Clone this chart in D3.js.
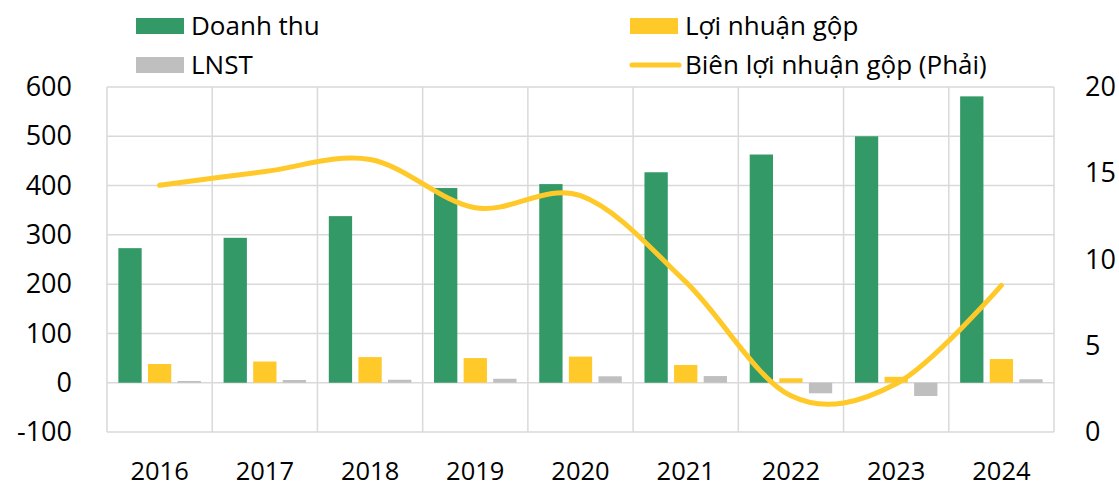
<!DOCTYPE html>
<html>
<head>
<meta charset="utf-8">
<script src="https://cdn.jsdelivr.net/npm/d3@7"></script>
<style>
  body { margin: 0; background: #fff; }
  text { font-family: "Open Sans", sans-serif; fill: #000; }
</style>
</head>
<body>
<div id="chart"></div>
<script>
// data
var years = ["2016", "2017", "2018", "2019", "2020", "2021", "2022", "2023", "2024"];
var doanhThu = [273, 294, 338, 395, 403, 427, 463, 500, 581];
var loiNhuanGop = [38, 43, 52, 50, 53, 36, 9, 12, 48];
var lnst = [3.5, 5.5, 6, 8, 13, 13.5, -21.5, -27, 7];
var bienLNG = [14.3, 15.1, 15.8, 13.0, 13.7, 8.7, 2.1, 2.8, 8.5];
var leftTicks = [-100, 0, 100, 200, 300, 400, 500, 600];
var rightTicks = [0, 5, 10, 15, 20];

var width = 1119, height = 486;
var plotLeft = 107, plotRight = 1054, plotTop = 87, plotBottom = 432;
var colors = { green: "#339966", yellow: "#ffc929", gray: "#bfbfbf", grid: "#d9d9d9" };

var svg = d3.select("#chart").append("svg")
    .attr("width", width)
    .attr("height", height);

var x = d3.scaleBand().domain(years).range([plotLeft, plotRight]);
var y = d3.scaleLinear().domain([-100, 600]).range([plotBottom, plotTop]);
var y2 = d3.scaleLinear().domain([0, 20]).range([plotBottom, plotTop]);

//gridlines
svg.append("g").selectAll("line")
    .data(leftTicks)
    .enter().append("line")
    .attr("x1", plotLeft).attr("x2", plotRight)
    .attr("y1", function (d) { return y(d); })
    .attr("y2", function (d) { return y(d); })
    .attr("stroke", colors.grid).attr("stroke-width", 1.5);

svg.append("g").selectAll("line")
    .data(years.concat(["end"]))
    .enter().append("line")
    .attr("x1", function (d, i) { return plotLeft + i * x.step(); })
    .attr("x2", function (d, i) { return plotLeft + i * x.step(); })
    .attr("y1", plotTop).attr("y2", plotBottom)
    .attr("stroke", colors.grid).attr("stroke-width", 1.5);

//bars
var barW = 23.3, barGap = 6.3;
var series = [
    { values: doanhThu, color: colors.green },
    { values: loiNhuanGop, color: colors.yellow },
    { values: lnst, color: colors.gray }
];
var groupW = barW * 3 + barGap * 2;
series.forEach(function (s, k) {
    svg.append("g").selectAll("rect")
        .data(s.values)
        .enter().append("rect")
        .attr("x", function (d, i) { return x(years[i]) + (x.bandwidth() - groupW) / 2 + k * (barW + barGap); })
        .attr("y", function (d) { return y(Math.max(d, 0)); })
        .attr("width", barW)
        .attr("height", function (d) { return Math.abs(y(d) - y(0)); })
        .attr("fill", s.color);
});

//margin line (right axis)
var line = d3.line()
    .x(function (d, i) { return x(years[i]) + x.bandwidth() / 2; })
    .y(function (d) { return y2(d); })
    .curve(d3.curveCatmullRom.alpha(0));
svg.append("path")
    .datum(bienLNG)
    .attr("d", line)
    .attr("fill", "none")
    .attr("stroke", colors.yellow)
    .attr("stroke-width", 5)
    .attr("stroke-linecap", "round");

//axes
var axisL = svg.append("g")
    .attr("transform", "translate(" + (plotLeft - 35) + ",0)")
    .call(d3.axisLeft(y).tickValues(leftTicks).tickFormat(function (d) { return String(d); })
        .tickSize(0).tickPadding(0));
var axisR = svg.append("g")
    .attr("transform", "translate(" + (plotRight + 31) + ",0)")
    .call(d3.axisRight(y2).tickValues(rightTicks).tickSize(0).tickPadding(0));
var axisB = svg.append("g")
    .attr("transform", "translate(0," + (plotBottom + 30) + ")")
    .call(d3.axisBottom(x).tickSize(0).tickPadding(0));
[axisL, axisR, axisB].forEach(function (a) {
    a.select(".domain").remove();
    a.selectAll("text")
        .style("font-family", "'Open Sans', sans-serif")
        .style("font-size", "27px")
        .attr("fill", "#000");
});
axisB.selectAll("text").style("font-size", "25.5px").attr("dy", "0.71em");

//legend
var legend = svg.append("g").style("font-size", "26px");
var items = [
    { label: "Doanh thu", color: colors.green, x: 136, y: 26, type: "rect" },
    { label: "LNST", color: colors.gray, x: 136, y: 65, type: "rect" },
    { label: "Lợi nhuận gộp", color: colors.yellow, x: 630, y: 26, type: "rect" },
    { label: "Biên lợi nhuận gộp (Phải)", color: colors.yellow, x: 630, y: 65, type: "line" }
];
items.forEach(function (it) {
    var g = legend.append("g").attr("transform", "translate(" + it.x + "," + it.y + ")");
    if (it.type === "rect") {
        g.append("rect").attr("x", 0).attr("y", -8).attr("width", 48).attr("height", 16).attr("fill", it.color);
    } else {
        g.append("line").attr("x1", 2).attr("x2", 49).attr("y1", 0).attr("y2", 0)
            .attr("stroke", it.color).attr("stroke-width", 5).attr("stroke-linecap", "round");
    }
    g.append("text").attr("x", 55).attr("y", 0).attr("dy", "0.35em").text(it.label);
});
</script>
</body>
</html>
